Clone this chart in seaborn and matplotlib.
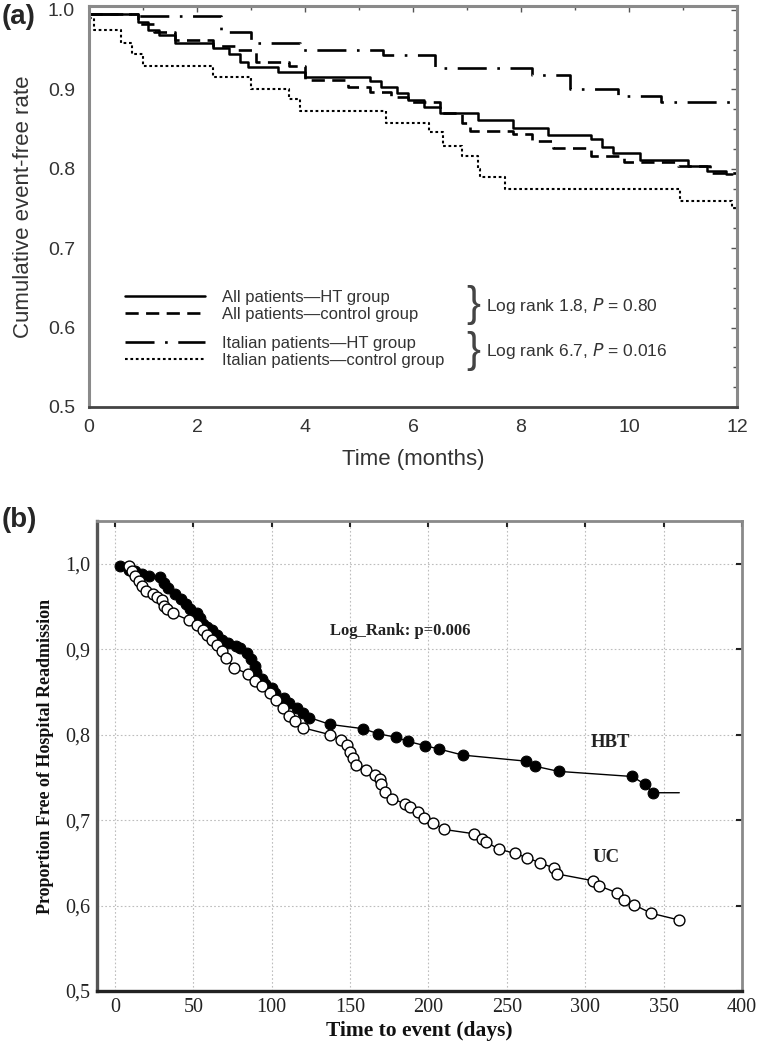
import numpy as np
import pandas as pd
import matplotlib
matplotlib.use("Agg")
import matplotlib.pyplot as plt
from matplotlib.lines import Line2D
import seaborn as sns

# ---------------- Panel (a) data: Kaplan-Meier step curves ----------------
all_ht_t = [0, 0.9, 1.1, 1.3, 1.6, 2.3, 2.6, 2.8, 2.95, 3.5, 4.0, 5.2, 5.4, 5.7, 5.9,
            6.2, 6.5, 7.2, 7.85, 8.5, 9.3, 9.5, 9.7, 10.2, 11.1, 11.45, 11.8, 11.9]
all_ht_v = [0.995, 0.985, 0.975, 0.968, 0.958, 0.952, 0.945, 0.935, 0.928, 0.922, 0.915,
            0.911, 0.903, 0.895, 0.886, 0.878, 0.870, 0.861, 0.851, 0.843, 0.838, 0.828,
            0.820, 0.811, 0.804, 0.797, 0.793, 0.793]

all_ctl_t = [0, 0.9, 1.2, 1.6, 2.3, 2.7, 3.1, 3.7, 4.0, 4.8, 5.2, 5.6, 5.9, 6.5, 6.9,
             7.05, 7.85, 8.2, 8.6, 9.3, 9.9, 10.9, 11.5, 12.0]
all_ctl_v = [0.995, 0.982, 0.972, 0.962, 0.955, 0.950, 0.935, 0.930, 0.912, 0.903, 0.897,
             0.890, 0.884, 0.870, 0.858, 0.848, 0.844, 0.835, 0.826, 0.816, 0.809, 0.803,
             0.795, 0.795]

ita_ht_t = [0, 0.8, 2.45, 3.0, 3.9, 5.45, 6.4, 8.2, 8.9, 9.8, 10.6, 11.9, 12.0]
ita_ht_v = [0.995, 0.992, 0.972, 0.958, 0.949, 0.943, 0.927, 0.918, 0.901, 0.892, 0.884,
            0.880, 0.880]

ita_ctl_t = [0, 0.1, 0.6, 0.8, 1.0, 2.3, 3.0, 3.7, 3.9, 5.5, 6.3, 6.55, 6.9, 7.2, 7.25,
             7.7, 10.95, 11.9, 12.0]
ita_ctl_v = [0.99, 0.975, 0.958, 0.945, 0.930, 0.915, 0.901, 0.888, 0.873, 0.858, 0.846,
             0.829, 0.816, 0.800, 0.789, 0.775, 0.760, 0.750, 0.750]

a_labels = ["All patients\u2014HT group", "All patients\u2014control group",
            "Italian patients\u2014HT group", "Italian patients\u2014control group"]
a_stats = ["Log rank 1.8, $\\it{P}$ = 0.80", "Log rank 6.7, $\\it{P}$ = 0.016"]
a_xticks = [0, 2, 4, 6, 8, 10, 12]
a_yticks = [0.5, 0.6, 0.7, 0.8, 0.9, 1.0]

# ---------------- Panel (b) data: readmission-free curves ----------------
hbt_day = [3, 9, 13, 17, 22, 29, 31, 34, 38, 42, 45, 48, 52, 54, 56, 59, 62, 65, 68, 72,
           77, 80, 84, 87, 89, 90, 94, 96, 100, 102, 108, 111, 116, 120, 124, 137, 158,
           168, 179, 187, 198, 207, 222, 262, 268, 283, 330, 338, 343, 360]
hbt_val = [0.997, 0.993, 0.991, 0.988, 0.986, 0.984, 0.977, 0.971, 0.965, 0.959, 0.953,
           0.947, 0.942, 0.936, 0.930, 0.926, 0.923, 0.917, 0.911, 0.907, 0.904, 0.901,
           0.896, 0.888, 0.880, 0.873, 0.865, 0.859, 0.855, 0.849, 0.843, 0.837, 0.831,
           0.825, 0.820, 0.812, 0.807, 0.801, 0.797, 0.792, 0.787, 0.783, 0.776, 0.769,
           0.763, 0.757, 0.751, 0.742, 0.732, 0.732]

uc_day = [9, 11, 13, 15, 17, 20, 24, 27, 30, 31, 33, 37, 47, 52, 56, 59, 62, 65, 68, 71,
          76, 85, 89, 94, 99, 103, 107, 111, 115, 120, 137, 144, 148, 150, 152, 154, 160,
          166, 169, 170, 172, 177, 185, 188, 193, 197, 203, 210, 229, 234, 237, 245, 255,
          263, 271, 280, 282, 305, 309, 320, 325, 331, 342, 360]
uc_val = [0.997, 0.992, 0.986, 0.980, 0.974, 0.968, 0.965, 0.961, 0.957, 0.951, 0.947,
          0.942, 0.934, 0.928, 0.922, 0.917, 0.911, 0.905, 0.898, 0.890, 0.878, 0.871,
          0.863, 0.857, 0.849, 0.841, 0.831, 0.822, 0.816, 0.808, 0.800, 0.794, 0.788,
          0.780, 0.773, 0.765, 0.759, 0.753, 0.748, 0.742, 0.733, 0.725, 0.719, 0.715,
          0.709, 0.703, 0.697, 0.689, 0.684, 0.678, 0.674, 0.666, 0.661, 0.656, 0.650,
          0.644, 0.637, 0.629, 0.623, 0.615, 0.607, 0.601, 0.591, 0.583]

b_xticks = [0, 50, 100, 150, 200, 250, 300, 350, 400]
b_yticks = [0.5, 0.6, 0.7, 0.8, 0.9, 1.0]
b_yticklabels = ["0,5", "0,6", "0,7", "0,8", "0,9", "1,0"]

# ---------------- Figure ----------------
sns.set_theme(style="white")
plt.rcParams["font.family"] = ["Liberation Sans", "DejaVu Sans"]

fig = plt.figure(figsize=(7.6, 10.47), dpi=100)

# ===== Panel (a) =====
ax1 = fig.add_axes([0.1171, 0.6113, 0.8526, 0.3830])
styles_a = [
    dict(lw=1.8, linestyle="-"),
    dict(lw=1.9, linestyle=(0, (5.0, 2.8))),
    dict(lw=1.9, linestyle=(0, (11, 4, 1.0, 4))),
    dict(lw=1.5, linestyle=(0, (1.3, 1.3))),
]
series_a = [(all_ht_t, all_ht_v), (all_ctl_t, all_ctl_v), (ita_ht_t, ita_ht_v), (ita_ctl_t, ita_ctl_v)]
for (t, v), st in zip(series_a, styles_a):
    sns.lineplot(x=t, y=v, ax=ax1, color="black", drawstyle="steps-post",
                 estimator=None, sort=False, **st)

ax1.set_xlim(0, 12)
ax1.set_ylim(0.5, 1.005)
ax1.set_xticks(a_xticks)
ax1.set_xticks(np.arange(0, 13, 1), minor=True)
ax1.set_yticks(a_yticks)
ax1.set_yticks(np.arange(0.5, 1.001, 0.025), minor=True)
ax1.set_xticklabels([str(x) for x in a_xticks])
ax1.set_yticklabels([f"{y:.1f}" for y in a_yticks])
ax1.tick_params(axis="both", which="both", direction="in", top=True, right=True,
                labelsize=14, colors="#555555", labelcolor="#333333")
ax1.tick_params(which="major", length=4, width=1)
ax1.tick_params(which="minor", length=3, width=1)
ax1.tick_params(axis="x", pad=9)
ax1.tick_params(axis="y", pad=10)
for side in ["top", "right", "left"]:
    ax1.spines[side].set_color("#8a8a8a")
    ax1.spines[side].set_linewidth(2.2)
ax1.spines["bottom"].set_color("#444444")
ax1.spines["bottom"].set_linewidth(2.0)
ax1.set_xlabel("Time (months)", fontsize=16, color="#333333", labelpad=9)
ax1.set_ylabel("Cumulative event-free rate", fontsize=16, color="#333333", labelpad=10)

handles = [Line2D([], [], color="black", **st) for st in styles_a]
leg_kw = dict(loc="center left", frameon=False, fontsize=12, handlelength=4.8,
              handletextpad=1.0, labelspacing=0.12, borderaxespad=0, borderpad=0,
              labelcolor="#333333")
leg1 = ax1.legend(handles[:2], a_labels[:2], bbox_to_anchor=(0.0556, 0.2515), **leg_kw)
ax1.add_artist(leg1)
ax1.legend(handles[2:], a_labels[2:], bbox_to_anchor=(0.0556, 0.138), **leg_kw)
ax1.text(7.12, 0.628, "}", fontsize=30, ha="center", va="center", color="#444444",
         fontweight="ultralight")
ax1.text(7.12, 0.571, "}", fontsize=30, ha="center", va="center", color="#444444",
         fontweight="ultralight")
ax1.text(7.36, 0.627, a_stats[0], fontsize=12.5, ha="left", va="center", color="#333333")
ax1.text(7.36, 0.570, a_stats[1], fontsize=12.5, ha="left", va="center", color="#333333")

fig.text(0.002, 0.984, "(a)", fontsize=20, fontweight="bold", ha="left", va="center",
         family=["Liberation Sans", "DejaVu Sans"])

# ===== Panel (b) =====
ax2 = fig.add_axes([0.1276, 0.0535, 0.8487, 0.4489])
ax2.grid(True, color="#bdbdbd", linestyle=(0, (1.5, 2)), linewidth=0.8)
ax2.set_axisbelow(True)
sns.lineplot(x=hbt_day, y=hbt_val, ax=ax2, color="black", lw=1.0, marker="o",
             markersize=7.8, markerfacecolor="black", markeredgecolor="black",
             markevery=list(range(len(hbt_day) - 1)), estimator=None, sort=False)
sns.lineplot(x=uc_day, y=uc_val, ax=ax2, color="black", lw=1.0, marker="o",
             markersize=7.8, markerfacecolor="white", markeredgecolor="black",
             markeredgewidth=1.0, estimator=None, sort=False)

ax2.set_xlim(-11.5, 400)
ax2.set_ylim(0.5, 1.05)
ax2.set_xticks(b_xticks)
ax2.set_yticks(b_yticks)
ax2.set_yticklabels(b_yticklabels)
serif = ["Liberation Serif", "DejaVu Serif"]
for lab in ax2.get_xticklabels() + ax2.get_yticklabels():
    lab.set_family(serif)
    lab.set_fontsize(14.5)
    lab.set_color("#222222")
ax2.tick_params(axis="both", which="major", direction="in", top=True, right=True,
                length=4, width=1.5, color="#222222", pad=5)
for side in ["top", "right"]:
    ax2.spines[side].set_color("#8a8a8a")
    ax2.spines[side].set_linewidth(2.0)
ax2.spines["left"].set_color("#555555")
ax2.spines["left"].set_linewidth(2.4)
ax2.spines["bottom"].set_color("#222222")
ax2.spines["bottom"].set_linewidth(2.4)
ax2.set_xlabel("Time to event (days)", fontsize=15.5, fontweight="bold", family=serif,
               color="#111111", labelpad=3)
ax2.set_ylabel("Proportion Free of Hospital Readmission", fontsize=13, fontweight="bold",
               family=serif, color="#111111", labelpad=8)
ax2.text(182, 0.921, "Log_Rank: p=0.006", fontsize=12, fontweight="bold", family=serif,
         ha="center", va="center", color="#222222")
ax2.text(316, 0.791, "HBT", fontsize=13.5, fontweight="bold", family=serif,
         ha="center", va="center", color="#222222")
ax2.text(313, 0.656, "UC", fontsize=13.5, fontweight="bold", family=serif,
         ha="center", va="center", color="#222222")

fig.text(0.002, 0.503, "(b)", fontsize=20, fontweight="bold", ha="left", va="center",
         family=["Liberation Sans", "DejaVu Sans"])

fig.savefig("out.png", dpi=100)
